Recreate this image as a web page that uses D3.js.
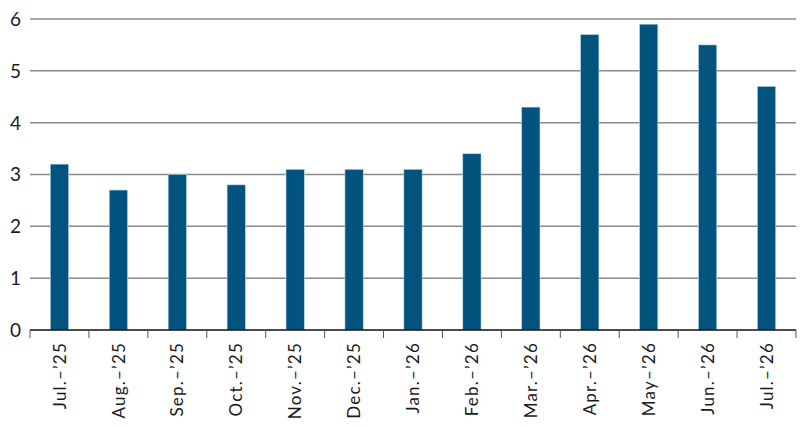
<!DOCTYPE html>
<html>
<head>
<meta charset="utf-8">
<script src="https://cdn.jsdelivr.net/npm/d3@7"></script>
<style>
  body { margin: 0; background: #fff; }
  svg text { font-family: Lato, "Open Sans", sans-serif; fill: #1a1a1a; }
</style>
</head>
<body>
<div id="chart"></div>
<script>
// months shown along the bottom
var months = ["Jul.\u2013\u201925", "Aug.\u2013\u201925", "Sep.\u2013\u201925", "Oct.\u2013\u201925",
  "Nov.\u2013\u201925", "Dec.\u2013\u201925", "Jan.\u2013\u201926", "Feb.\u2013\u201926",
  "Mar.\u2013\u201926", "Apr.\u2013\u201926", "May\u2013\u201926", "Jun.\u2013\u201926", "Jul.\u2013\u201926"];
var values = [3.2, 2.7, 3.0, 2.8, 3.1, 3.1, 3.1, 3.4, 4.3, 5.7, 5.9, 5.5, 4.7];
var yTicks = [0, 1, 2, 3, 4, 5, 6];

var width = 800, height = 428;
var margin = {top: 19, right: 4, bottom: 98, left: 30};

var svg = d3.select("#chart").append("svg")
  .attr("width", width)
  .attr("height", height);

var x = d3.scaleBand()
  .domain(months)
  .range([margin.left, width - margin.right])
  .paddingInner(0.69)
  .paddingOuter(0.345);

var y = d3.scaleLinear()
  .domain([0, 6])
  .range([height - margin.bottom, margin.top]);

// gridlines
svg.append("g")
  .selectAll("line")
  .data(yTicks.filter(function (d) { return d > 0; }))
  .enter()
  .append("line")
  .attr("x1", margin.left)
  .attr("x2", width - margin.right)
  .attr("y1", function (d) { return y(d); })
  .attr("y2", function (d) { return y(d); })
  .attr("stroke", "#8a8a8a")
  .attr("stroke-width", 1.5);

// y labels
svg.append("g")
  .selectAll("text")
  .data(yTicks)
  .enter()
  .append("text")
  .attr("x", 21)
  .attr("y", function (d) { return y(d); })
  .attr("dy", "0.36em")
  .attr("text-anchor", "end")
  .style("font-size", "19px")
  .text(function (d) { return d; });

// bars
svg.append("g")
  .selectAll("rect")
  .data(values)
  .enter()
  .append("rect")
  .attr("x", function (d, i) { return x(months[i]); })
  .attr("width", x.bandwidth())
  .attr("y", function (d) { return y(d); })
  .attr("height", function (d) { return y(0) - y(d); })
  .attr("fill", "#02547f")
  .attr("stroke", "#b9d4e6")
  .attr("stroke-width", 0.6);

// x axis line + boundary ticks
var step = x.step();
var xAxis = svg.append("g");
xAxis.append("line")
  .attr("x1", margin.left)
  .attr("x2", width - margin.right)
  .attr("y1", y(0))
  .attr("y2", y(0))
  .attr("stroke", "#111")
  .attr("stroke-width", 1.6);

var bounds = d3.range(months.length + 1);
xAxis.selectAll(".tick")
  .data(bounds)
  .enter()
  .append("line")
  .attr("class", "tick")
  .attr("x1", function (d) { return margin.left + d * step; })
  .attr("x2", function (d) { return margin.left + d * step; })
  .attr("y1", y(0))
  .attr("y2", y(0) + 8)
  .attr("stroke", "#555")
  .attr("stroke-width", 1);

// rotated month labels
xAxis.selectAll(".lbl")
  .data(months)
  .enter()
  .append("text")
  .attr("class", "lbl")
  .attr("transform", function (d) {
    return "translate(" + (x(d) + x.bandwidth() / 2) + "," + (y(0) + 12) + ") rotate(-90)";
  })
  .attr("text-anchor", "end")
  .attr("dy", "0.36em")
  .style("font-size", "17px")
  .style("letter-spacing", "1.2px")
  .text(function (d) { return d; });
</script>
</body>
</html>
